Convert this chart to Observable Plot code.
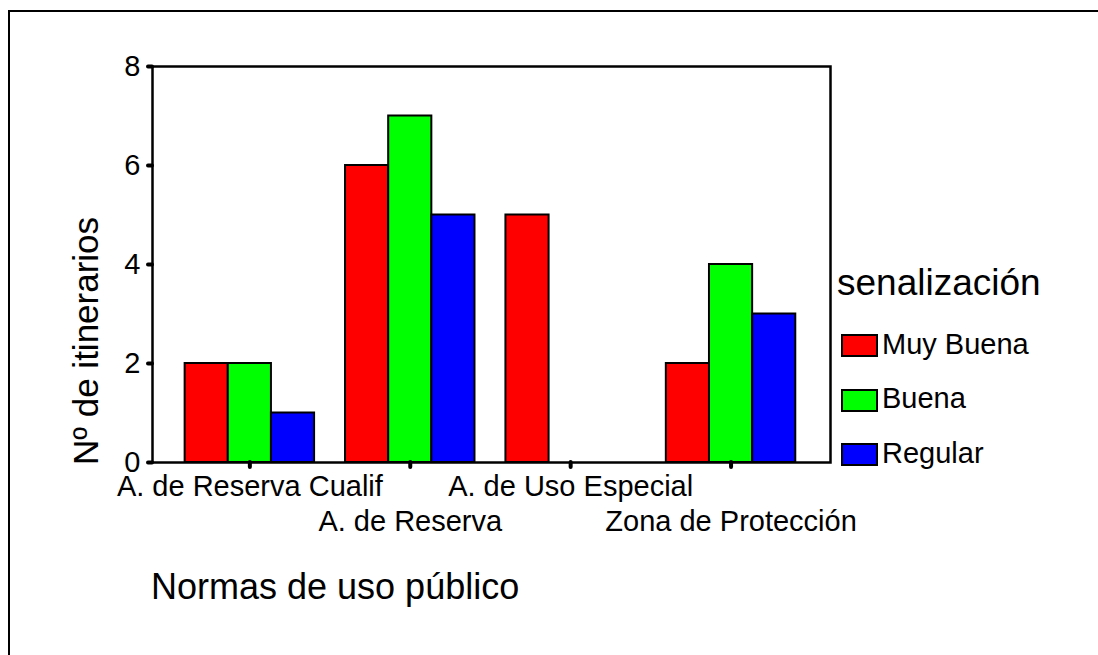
<!DOCTYPE html>
<html>
<head>
<meta charset="utf-8">
<script src="https://cdn.jsdelivr.net/npm/d3@7"></script>
<script src="https://cdn.jsdelivr.net/npm/@observablehq/plot@0.6"></script>
<style>
  html, body { margin: 0; padding: 0; background: #fff; }
  #wrap { position: relative; width: 1098px; height: 655px; overflow: hidden; font-family: "Liberation Sans", Arial, sans-serif; color: #000; }
  #border { position: absolute; left: 8px; top: 10px; width: 1200px; height: 800px; border-left: 2.5px solid #000; border-top: 2.5px solid #000; }
  #chart { position: absolute; left: 0; top: 0; }
  .abs { position: absolute; white-space: nowrap; line-height: 1; }
  .sw { position: absolute; box-sizing: border-box; width: 37px; height: 23px; border: 2px solid #000; }
</style>
</head>
<body>
<div id="wrap">
  <div id="border"></div>
  <div id="chart"></div>
</div>
<script>
// ---- data ----
const groups = ["A. de Reserva Cualif", "A. de Reserva", "A. de Uso Especial", "Zona de Protección"];
const series = ["Muy Buena", "Buena", "Regular"];
const muyBuena = [2, 6, 5, 2];
const buena = [2, 7, 0, 4];
const regular = [1, 5, 0, 3];
const colors = ["#ff0000", "#00ff00", "#0000ff"];
const yTicks = [0, 2, 4, 6, 8];
const yTitle = "Nº de itinerarios";
const xTitle = "Normas de uso público";
const legendTitle = "senalización";

const values = [muyBuena, buena, regular];
const rows = [];
groups.forEach((g, gi) => series.forEach((s, si) => rows.push({group: g, gi, series: s, si, value: values[si][gi]})));

const BW = 0.269; // bar width in group-step units
const chart = Plot.plot({
  width: 1098,
  height: 655,
  marginLeft: 152,
  marginRight: 268,
  marginTop: 66,
  marginBottom: 193,
  style: {fontFamily: "'Liberation Sans', Arial, sans-serif", background: "transparent", color: "#000", overflow: "visible"},
  x: {type: "linear", domain: [-0.607, 3.62]},
  y: {domain: [0, 8]},
  color: {domain: series, range: colors},
  marks: [
    Plot.rect(rows, {
      x1: d => d.gi + (d.si - 1.5) * BW,
      x2: d => d.gi + (d.si - 0.5) * BW,
      y1: 0,
      y2: "value",
      fill: "series",
      stroke: "black",
      strokeWidth: 2
    }),
    Plot.frame({stroke: "black", strokeWidth: 2.5}),
    Plot.axisY(yTicks, {tickFormat: d => String(d), tickSize: 4, tickPadding: 8, strokeWidth: 4, strokeLinecap: "round", fontSize: 29, label: null}),
    Plot.axisX([0, 2], {tickFormat: i => groups[i], tickSize: 5, tickPadding: 8, strokeWidth: 4, strokeLinecap: "round", fontSize: 29, label: null}),
    Plot.axisX([1, 3], {tickFormat: i => groups[i], tickSize: 5, tickPadding: 43, strokeWidth: 4, strokeLinecap: "round", fontSize: 29, label: null})
  ]
});
document.getElementById("chart").appendChild(chart);

const wrap = document.getElementById("wrap");
function addText(txt, css) {
  const el = document.createElement("div");
  el.className = "abs";
  el.textContent = txt;
  Object.assign(el.style, css);
  wrap.appendChild(el);
  return el;
}
// axis titles
addText(yTitle, {left: "85px", top: "341px", fontSize: "35px", transform: "translate(-50%, -50%) rotate(-90deg)"});
addText(xTitle, {left: "151px", top: "569px", fontSize: "36px"});
// legend
addText(legendTitle, {left: "837px", top: "264px", fontSize: "37px"});
series.forEach((s, i) => {
  const sw = document.createElement("div");
  sw.className = "sw";
  sw.style.left = "841px";
  sw.style.top = (334 + i * 54.5) + "px";
  sw.style.background = colors[i];
  wrap.appendChild(sw);
  addText(s, {left: "882px", top: (329.5 + i * 54.5) + "px", fontSize: "29px"});
});
</script>
</body>
</html>
